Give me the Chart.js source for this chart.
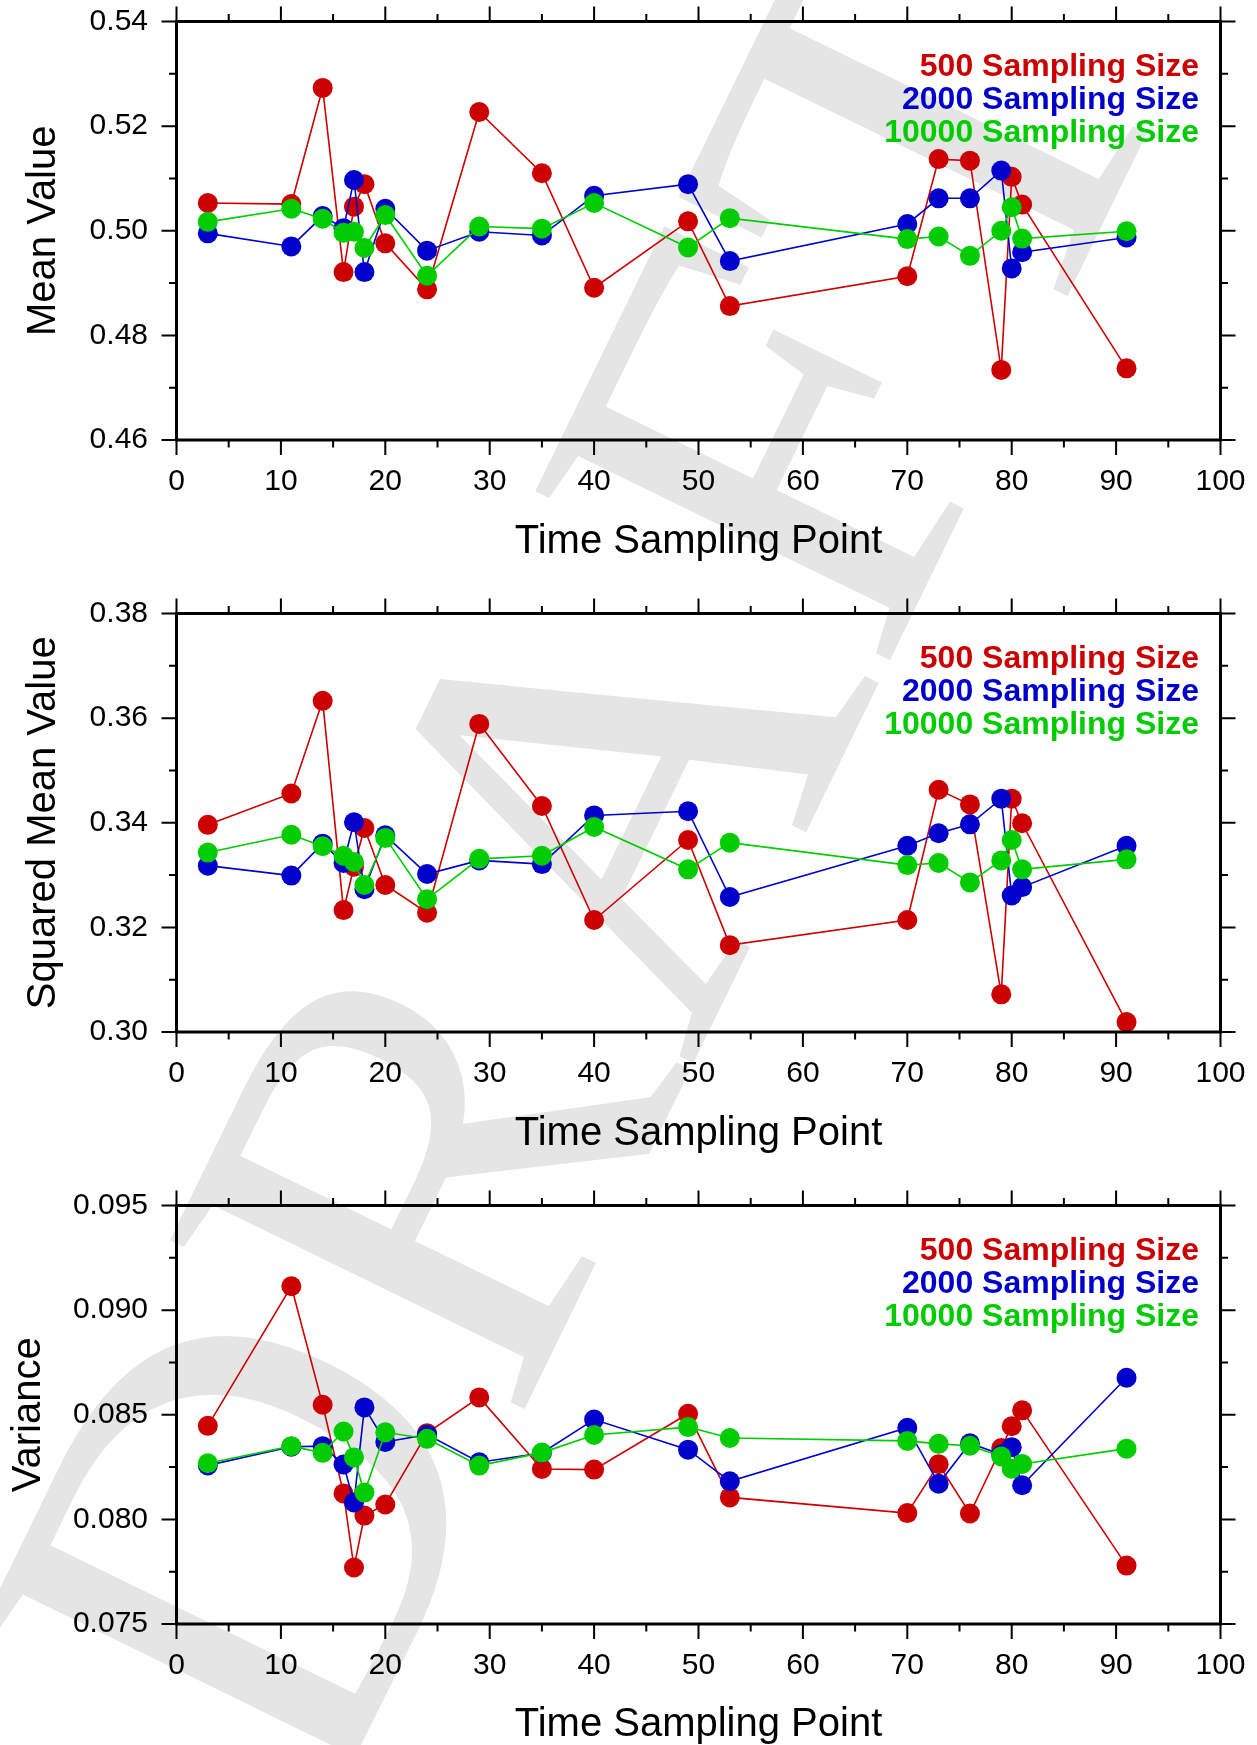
<!DOCTYPE html>
<html><head><meta charset="utf-8">
<script src="https://cdn.jsdelivr.net/npm/chart.js@4.4.1/dist/chart.umd.min.js"></script>
<style>
html,body{margin:0;padding:0;background:#fff;}
#page{position:relative;width:1257px;height:1745px;overflow:hidden;background:#fff;}
#wm{position:absolute;left:575px;top:845px;transform:translate(-50%,-50%) rotate(-64deg);font-family:'Liberation Serif','DejaVu Serif',serif;font-size:600px;line-height:1;color:#e5e5e5;white-space:nowrap;z-index:0;}
canvas{position:absolute;left:0;z-index:1;}
</style></head><body>
<div id="page">
<div id="wm">DRAFT</div>
<canvas id="c1" width="1257" height="592" style="top:0px"></canvas>
<canvas id="c2" width="1257" height="592" style="top:592px"></canvas>
<canvas id="c3" width="1257" height="561" style="top:1184px"></canvas>
</div>
<script>
// ---- data ----
const timePoints = [3,11,14,16,17,18,20,24,29,35,40,49,53,70,73,76,79,80,81,91];

const mean500   = [0.5053,0.5051,0.5273,0.4921,0.5046,0.5089,0.4976,0.4888,0.5227,0.5110,0.4891,0.5018,0.4856,0.4913,0.5137,0.5134,0.4734,0.5103,0.5050,0.4737];
const mean2000  = [0.4995,0.4970,0.5028,0.5005,0.5097,0.4921,0.5042,0.4962,0.4998,0.4991,0.5067,0.5089,0.4942,0.5013,0.5062,0.5062,0.5115,0.4928,0.4959,0.4987];
const mean10000 = [0.5017,0.5042,0.5023,0.4996,0.4998,0.4967,0.5030,0.4914,0.5008,0.5004,0.5053,0.4968,0.5024,0.4984,0.4989,0.4952,0.5000,0.5045,0.4985,0.4999];

const sq500   = [0.3396,0.3456,0.3633,0.3233,0.3316,0.3390,0.3281,0.3228,0.3589,0.3432,0.3214,0.3367,0.3166,0.3214,0.3463,0.3435,0.3072,0.3446,0.3399,0.3019];
const sq2000  = [0.3318,0.3299,0.3360,0.3323,0.3401,0.3273,0.3376,0.3302,0.3328,0.3321,0.3414,0.3422,0.3258,0.3356,0.3380,0.3397,0.3446,0.3261,0.3277,0.3356];
const sq10000 = [0.3343,0.3377,0.3355,0.3337,0.3325,0.3281,0.3371,0.3254,0.3331,0.3337,0.3392,0.3311,0.3362,0.3319,0.3323,0.3286,0.3328,0.3367,0.3311,0.3330];

const var500   = [0.08447,0.09114,0.08548,0.08124,0.07770,0.08018,0.08071,0.08412,0.08583,0.08241,0.08238,0.08505,0.08105,0.08030,0.08264,0.08028,0.08341,0.08445,0.08521,0.07779];
const var2000  = [0.08258,0.08347,0.08350,0.08262,0.08081,0.08535,0.08370,0.08405,0.08273,0.08317,0.08477,0.08333,0.08182,0.08438,0.08170,0.08364,0.08310,0.08345,0.08163,0.08677];
const var10000 = [0.08268,0.08350,0.08318,0.08420,0.08296,0.08128,0.08416,0.08385,0.08257,0.08319,0.08403,0.08441,0.08389,0.08375,0.08361,0.08352,0.08301,0.08242,0.08265,0.08338];

const seriesLabels = ['500 Sampling Size','2000 Sampling Size','10000 Sampling Size'];
const seriesColors = ['#cc0000','#0000cc','#00cc00'];
const seriesDrawOrder = [2,1,0];

const xTicks = [0,10,20,30,40,50,60,70,80,90,100];
const yTicksMean = [0.46,0.48,0.50,0.52,0.54];
const yTicksSq = [0.30,0.32,0.34,0.36,0.38];
const yTicksVar = [0.075,0.080,0.085,0.090,0.095];

const xTitle = 'Time Sampling Point';
const FONT = '"Liberation Sans", Arial, Helvetica, sans-serif';

// ---- plugins ----
function minorsOf(arr){ const m=[]; for(let i=0;i<arr.length-1;i++) m.push((arr[i]+arr[i+1])/2); return m; }

const framePlugin = {
  id: 'frameTicks',
  afterDraw(chart, args, o) {
    const {ctx, chartArea: a, scales: {x, y}} = chart;
    const MAJ = 15, MIN = 7.5;
    ctx.save();
    ctx.strokeStyle = '#000';
    ctx.lineWidth = 2;
    ctx.beginPath();
    const xt = o.xTicks, yt = o.yTicks;
    const vx = (v, len) => { const p = x.getPixelForValue(v); ctx.moveTo(p, a.bottom); ctx.lineTo(p, a.bottom + len); ctx.moveTo(p, a.top); ctx.lineTo(p, a.top - len); };
    const vy = (v, len) => { const p = y.getPixelForValue(v); ctx.moveTo(a.left, p); ctx.lineTo(a.left - len, p); ctx.moveTo(a.right, p); ctx.lineTo(a.right + len, p); };
    xt.forEach(v => vx(v, MAJ)); minorsOf(xt).forEach(v => vx(v, MIN));
    yt.forEach(v => vy(v, MAJ)); minorsOf(yt).forEach(v => vy(v, MIN));
    ctx.stroke();
    ctx.lineWidth = 3;
    ctx.strokeRect(a.left, a.top, a.right - a.left, a.bottom - a.top);
    ctx.restore();
  }
};

const legendTextPlugin = {
  id: 'legendText',
  afterDraw(chart) {
    const {ctx, chartArea: a} = chart;
    ctx.save();
    ctx.font = 'bold 32px ' + FONT;
    ctx.textAlign = 'right';
    ctx.textBaseline = 'alphabetic';
    chart.data.datasets.forEach((ds, i) => {
      ctx.fillStyle = ds.borderColor;
      ctx.fillText(ds.label, a.right - 21.5, a.top + 54.5 + i * 33.2);
    });
    ctx.restore();
  }
};

function makeChart(id, H, series, yTicks, decimals, yTitle, xTitlePadB, yTitlePad) {
  const datasets = series.map((vals, i) => ({
    label: seriesLabels[i],
    data: timePoints.map((t, j) => ({x: t, y: vals[j]})),
    borderColor: seriesColors[i],
    backgroundColor: seriesColors[i],
    pointBackgroundColor: seriesColors[i],
    pointBorderWidth: 0,
    pointRadius: 10,
    borderWidth: 1.6,
    tension: 0,
    fill: false,
    order: seriesDrawOrder[i]
  }));
  return new Chart(document.getElementById(id), {
    type: 'line',
    data: {datasets},
    options: {
      responsive: false,
      animation: false,
      devicePixelRatio: 1,
      layout: {padding: {top: 21.5, right: 36.5, left: 0, bottom: 0}},
      plugins: {
        legend: {display: false},
        tooltip: {enabled: false},
        frameTicks: {xTicks: xTicks, yTicks: yTicks}
      },
      scales: {
        x: {
          type: 'linear', position: 'bottom', min: xTicks[0], max: xTicks[xTicks.length - 1],
          afterBuildTicks: s => { s.ticks = xTicks.map(v => ({value: v})); },
          afterFit: s => { s.height = H - 440; s.paddingLeft = 0; s.paddingRight = 0; s.paddingTop = 0; s.paddingBottom = 0; },
          ticks: {font: {family: FONT, size: 30}, color: '#000', padding: 24, maxRotation: 0, autoSkip: false, callback: v => String(v)},
          grid: {display: false, drawTicks: false},
          border: {display: false},
          title: {display: true, text: xTitle, color: '#000', font: {family: FONT, size: 40, lineHeight: 1}, padding: {top: 0, bottom: xTitlePadB}}
        },
        y: {
          type: 'linear', position: 'left', min: yTicks[0], max: yTicks[yTicks.length - 1],
          afterBuildTicks: s => { s.ticks = yTicks.map(v => ({value: v})); },
          afterFit: s => { s.width = 176.5; s.paddingTop = 0; s.paddingBottom = 0; s.paddingLeft = 0; s.paddingRight = 0; },
          ticks: {font: {family: FONT, size: 30}, color: '#000', padding: 28.5, autoSkip: false, callback: v => Number(v).toFixed(decimals)},
          grid: {display: false, drawTicks: false},
          border: {display: false},
          title: {display: true, text: yTitle, color: '#000', font: {family: FONT, size: 40, lineHeight: 1}, padding: {top: yTitlePad, bottom: 0}}
        }
      }
    },
    plugins: [framePlugin, legendTextPlugin]
  });
}

makeChart('c1', 592, [mean500, mean2000, mean10000], yTicksMean, 2, 'Mean Value', 30.5, 24.2);
makeChart('c2', 592, [sq500, sq2000, sq10000], yTicksSq, 2, 'Squared Mean Value', 30.5, 24.2);
makeChart('c3', 561, [var500, var2000, var10000], yTicksVar, 3, 'Variance', 0, 8.8);
</script>
</body></html>
